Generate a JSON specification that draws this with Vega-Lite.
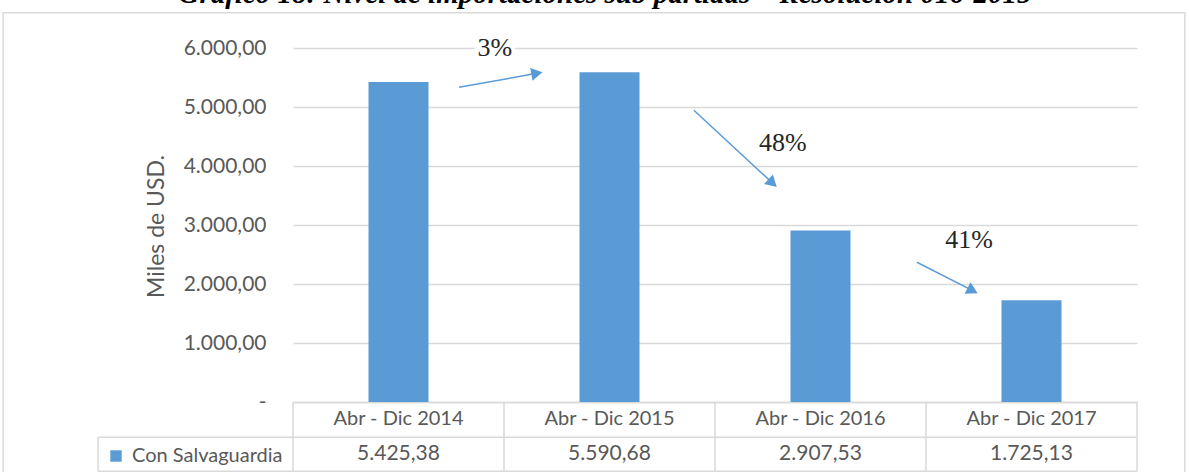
{
  "$schema": "https://vega.github.io/schema/vega-lite/v6.json",
  "width": 844,
  "height": 354,
  "autosize": "none",
  "padding": {"left": 293, "top": 48, "right": 52, "bottom": 70},
  "background": "white",
  "config": {
    "locale": {"number": {"decimal": ",", "thousands": ".", "grouping": [3], "currency": ["", ""]}},
    "view": {"stroke": null},
    "font": "Lato"
  },
  "title": {
    "text": "Gráfico 18: Nivel de importaciones sub partidas – Resolución 016-2015",
    "font": "Liberation Serif",
    "fontSize": 29,
    "fontStyle": "italic",
    "fontWeight": "bold",
    "color": "#000000",
    "anchor": "middle",
    "frame": "group",
    "offset": -20,
    "baseline": "alphabetic",
    "dx": -110
  },
  "datasets": {
    "imports": [
      {"periodo": "Abr - Dic 2014", "valor": 5425.38},
      {"periodo": "Abr - Dic 2015", "valor": 5590.68},
      {"periodo": "Abr - Dic 2016", "valor": 2907.53},
      {"periodo": "Abr - Dic 2017", "valor": 1725.13}
    ],
    "marco": [{"u1": -1.374, "u2": 4.227, "v1": 6597, "v2": -1400}],
    "tabla": [
      {"u1": 0, "u2": 0, "v1": 0, "v2": -1175},
      {"u1": 1, "u2": 1, "v1": 0, "v2": -1175},
      {"u1": 2, "u2": 2, "v1": 0, "v2": -1175},
      {"u1": 3, "u2": 3, "v1": 0, "v2": -1175},
      {"u1": 4, "u2": 4, "v1": 0, "v2": -1175},
      {"u1": -0.924, "u2": -0.924, "v1": -598, "v2": -1175},
      {"u1": -0.924, "u2": 4, "v1": -598, "v2": -598},
      {"u1": -0.924, "u2": 4, "v1": -1175, "v2": -1175}
    ],
    "flechas": [
      {"u1": 0.787, "v1": 5334, "u2": 1.156, "v2": 5571, "ang": -10.1, "etiqueta": "3%", "lu": 0.957, "lv": 5995},
      {"u1": 1.900, "v1": 4944, "u2": 2.273, "v2": 3709, "ang": 42.9, "etiqueta": "48%", "lu": 2.322, "lv": 4385},
      {"u1": 2.957, "v1": 2368, "u2": 3.221, "v2": 1888, "ang": 26.9, "etiqueta": "41%", "lu": 3.204, "lv": 2741}
    ]
  },
  "resolve": {"scale": {"x": "independent"}},
  "layer": [
    {
      "data": {"name": "marco"},
      "mark": {"type": "rect", "fillOpacity": 0, "stroke": "#d9d9d9", "strokeWidth": 1.5},
      "encoding": {
        "x": {"field": "u1", "type": "quantitative", "scale": {"domain": [0, 4], "nice": false, "zero": false}, "axis": null},
        "x2": {"field": "u2"},
        "y": {"field": "v1", "type": "quantitative", "scale": {"domain": [0, 6000], "nice": false}},
        "y2": {"field": "v2"}
      }
    },
    {
      "data": {"name": "imports"},
      "encoding": {
        "x": {
          "field": "periodo",
          "type": "nominal",
          "sort": null,
          "scale": {"paddingInner": 0.7156, "paddingOuter": 0.3578},
          "axis": {
            "title": null,
            "orient": "bottom",
            "domainColor": "#d9d9d9",
            "domainWidth": 1.5,
            "ticks": false,
            "grid": false,
            "labelAngle": 0,
            "labelFont": "Lato",
            "labelFontSize": 20,
            "labelColor": "#595959",
            "labelPadding": 6
          }
        }
      },
      "layer": [
        {
          "mark": {"type": "bar"},
          "encoding": {
            "y": {
              "field": "valor",
              "type": "quantitative",
              "scale": {"domain": [0, 6000], "nice": false},
              "axis": {
                "title": "Miles de USD.",
                "values": [0, 1000, 2000, 3000, 4000, 5000, 6000],
                "format": ",.2f",
                "labelExpr": "datum.value == 0 ? '-    ' : datum.label",
                "domain": false,
                "ticks": false,
                "grid": true,
                "gridColor": "#d9d9d9",
                "gridWidth": 1.5,
                "labelPadding": 27,
                "labelFont": "Lato",
                "labelFontSize": 21,
                "labelColor": "#595959",
                "titleFont": "Lato",
                "titleFontSize": 23,
                "titleFontWeight": "normal",
                "titleColor": "#595959",
                "titleX": -137,
                "titleY": 178,
                "titleAngle": -90,
                "titleAlign": "center",
                "titleBaseline": "middle"
              }
            },
            "color": {
              "datum": "Con Salvaguardia",
              "type": "nominal",
              "scale": {"range": ["#5b9bd5"]},
              "legend": {
                "orient": "none",
                "legendX": -187,
                "legendY": 398,
                "title": null,
                "symbolType": "square",
                "symbolSize": 130,
                "symbolStrokeWidth": 0,
                "labelFont": "Lato",
                "labelFontSize": 20,
                "labelColor": "#595959",
                "labelOffset": 6,
                "padding": 0
              }
            }
          }
        },
        {
          "mark": {"type": "text", "font": "Lato", "fontSize": 21, "color": "#595959", "baseline": "middle"},
          "encoding": {
            "y": {"datum": -886, "type": "quantitative"},
            "text": {"field": "valor", "type": "quantitative", "format": ",.2f"}
          }
        }
      ]
    },
    {
      "data": {"name": "tabla"},
      "mark": {"type": "rule", "color": "#d9d9d9", "strokeWidth": 1.5},
      "encoding": {
        "x": {"field": "u1", "type": "quantitative", "scale": {"domain": [0, 4], "nice": false, "zero": false}, "axis": null},
        "x2": {"field": "u2"},
        "y": {"field": "v1", "type": "quantitative"},
        "y2": {"field": "v2"}
      }
    },
    {
      "data": {"name": "flechas"},
      "mark": {"type": "rule", "color": "#5b9bd5", "strokeWidth": 1.5},
      "encoding": {
        "x": {"field": "u1", "type": "quantitative", "scale": {"domain": [0, 4], "nice": false, "zero": false}, "axis": null},
        "x2": {"field": "u2"},
        "y": {"field": "v1", "type": "quantitative"},
        "y2": {"field": "v2"}
      }
    },
    {
      "data": {"name": "flechas"},
      "mark": {"type": "point", "shape": "triangle-right", "filled": true, "color": "#5b9bd5", "opacity": 1, "size": 170},
      "encoding": {
        "x": {"field": "u2", "type": "quantitative", "scale": {"domain": [0, 4], "nice": false, "zero": false}, "axis": null},
        "y": {"field": "v2", "type": "quantitative"},
        "angle": {"field": "ang", "type": "quantitative", "scale": null}
      }
    },
    {
      "data": {"name": "flechas"},
      "mark": {"type": "text", "font": "Liberation Serif", "fontSize": 26, "color": "white", "stroke": "white", "strokeWidth": 8, "baseline": "middle"},
      "encoding": {
        "x": {"field": "lu", "type": "quantitative", "scale": {"domain": [0, 4], "nice": false, "zero": false}, "axis": null},
        "y": {"field": "lv", "type": "quantitative"},
        "text": {"field": "etiqueta"}
      }
    },
    {
      "data": {"name": "flechas"},
      "mark": {"type": "text", "font": "Liberation Serif", "fontSize": 26, "color": "#262626", "baseline": "middle"},
      "encoding": {
        "x": {"field": "lu", "type": "quantitative", "scale": {"domain": [0, 4], "nice": false, "zero": false}, "axis": null},
        "y": {"field": "lv", "type": "quantitative"},
        "text": {"field": "etiqueta"}
      }
    }
  ]
}
